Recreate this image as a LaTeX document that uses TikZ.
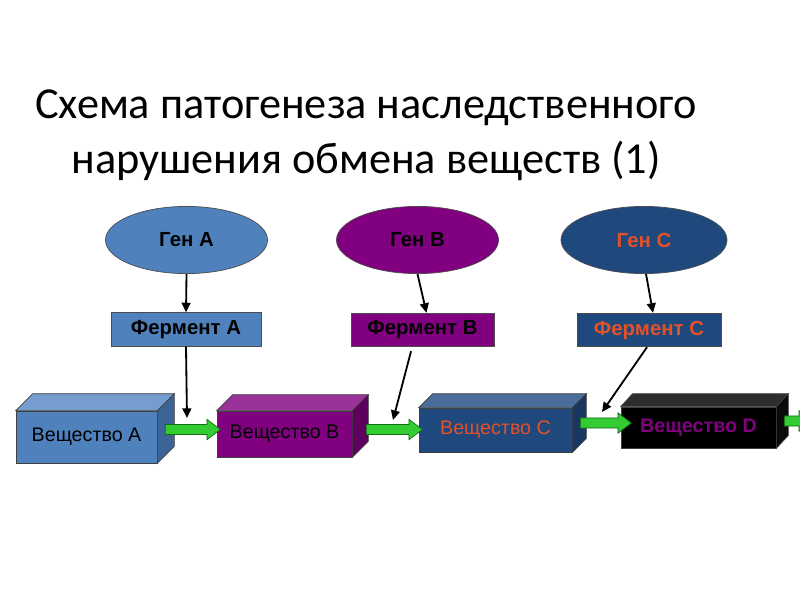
\documentclass[tikz,border=0pt]{standalone}
\usepackage{fontspec}
\setmainfont{Liberation Sans}
\newfontfamily\titlefont{Carlito}
\usepackage{tikz}
\usetikzlibrary{arrows.meta,shapes.geometric,shapes.arrows}

\definecolor{blueA}{RGB}{79,129,189}
\definecolor{blueAtop}{RGB}{118,157,207}
\definecolor{blueAside}{RGB}{60,100,150}
\definecolor{purpB}{RGB}{128,0,128}
\definecolor{purpBtop}{RGB}{153,51,153}
\definecolor{purpBside}{RGB}{94,0,94}
\definecolor{navyC}{RGB}{31,73,125}
\definecolor{navyCtop}{RGB}{74,109,154}
\definecolor{navyCside}{RGB}{23,55,96}
\definecolor{blackDtop}{RGB}{45,45,45}
\definecolor{blackDside}{RGB}{10,10,10}
\definecolor{redtext}{RGB}{228,80,40}
\definecolor{flowfill}{RGB}{51,204,51}
\definecolor{flowdraw}{RGB}{20,110,20}

\begin{document}
\begin{tikzpicture}[x=0.025cm,y=-0.025cm,>={Triangle[length=2.4mm,width=2.2mm]},
  gene/.style={ellipse,draw=black!70,line width=0.5pt,minimum width=4.05cm,minimum height=1.68cm,inner sep=0pt,font=\fontsize{14.5}{17}\selectfont\bfseries},
  enzyme/.style={rectangle,draw=black!70,line width=0.5pt,minimum height=0.84cm,inner sep=0pt,font=\fontsize{14.5}{17}\selectfont\bfseries},
  substance/.style={rectangle,draw=black!75,line width=0.5pt,inner sep=0pt,font=\fontsize{14}{16}\selectfont},
  flow/.style={single arrow,draw=flowdraw,fill=flowfill,line width=0.5pt,inner sep=0pt,inner ysep=0.117cm,single arrow head extend=0.13cm,single arrow tip angle=75},
  link/.style={->,line width=1.3pt}]
\useasboundingbox (0,0) rectangle (800,600);

% title
\node[align=center,font=\titlefont\fontsize{31.5}{39}\selectfont] (title) at (366,135)
  {Схема патогенеза наследственного\\нарушения обмена веществ (1)};

% genes
\node[gene,fill=blueA] (ga) at (186.5,240) {Ген А};
\node[gene,fill=purpB] (gb) at (417.5,240) {Ген В};
\node[gene,fill=navyC,minimum width=4.15cm,text=redtext] (gc) at (644,240) {Ген С};

% enzymes
\node[enzyme,fill=blueA,minimum width=3.75cm] (fa) at (186,329.5) {Фермент А};
\node[enzyme,fill=purpB,minimum width=3.575cm] (fb) at (422.5,330) {Фермент В};
\node[enzyme,fill=navyC,minimum width=3.6cm,text=redtext] (fc) at (649,330) {Фермент С};

% substances
\node[substance,fill=blueA,minimum width=3.525cm,minimum height=1.3cm] (va) at (86.5,437) {Вещество А};
\node[substance,fill=purpB,minimum width=3.375cm,minimum height=1.15cm] (vb) at (284.5,434) {Вещество В};
\node[substance,fill=navyC,minimum width=3.825cm,minimum height=1.1cm,text=redtext] (vc) at (495.5,430) {Вещество С};
\node[substance,fill=black,minimum width=3.875cm,minimum height=1.025cm,text=purpB,font=\fontsize{14}{16}\selectfont\bfseries] (vd) at (698.5,427.5) {Вещество D};

% top and side faces
\foreach \v/\dx/\dy/\top/\side in {va/17/17/blueAtop/blueAside,vb/16/16/purpBtop/purpBside,vc/14/14/navyCtop/navyCside,vd/12/13/blackDtop/blackDside}{
  \draw[black!75,line width=0.5pt,fill=\top] (\v.north west) -- ++(\dx,-\dy) -- ([shift={(\dx,-\dy)}]\v.north east) -- (\v.north east) -- cycle;
  \draw[black!75,line width=0.5pt,fill=\side] (\v.north east) -- ++(\dx,-\dy) -- ([shift={(\dx,-\dy)}]\v.south east) -- (\v.south east) -- cycle;
}

% green flow arrows
\node[flow,minimum height=1.375cm] (fab) at (189.5,429.5) {};
\node[flow,minimum height=1.4cm] (fbc) at (391,429.5) {};
\node[flow,minimum height=1.275cm] (fcd) at (602.5,423) {};
\node[flow,minimum height=0.7cm] (fde) at (795,421) {};

% gene to enzyme
\draw[link] (ga.south) -- (fa.north);
\draw[link] (gb.south) -- ([xshift=0.1cm]fb.north);
\draw[link] ([xshift=0.05cm]gc.south) -- ([xshift=0.1cm]fc.north);

% enzyme to reaction
\coordinate (ra) at (187,418);
\coordinate (rb) at (393,420);
\coordinate (rc) at (602,412);
\draw[link] (fa.south) -- (ra);
\draw[link,shorten <=3pt] ([xshift=-0.26cm]fb.south) -- (rb);
\draw[link] ([xshift=-0.05cm]fc.south) -- (rc);
\end{tikzpicture}
\end{document}
